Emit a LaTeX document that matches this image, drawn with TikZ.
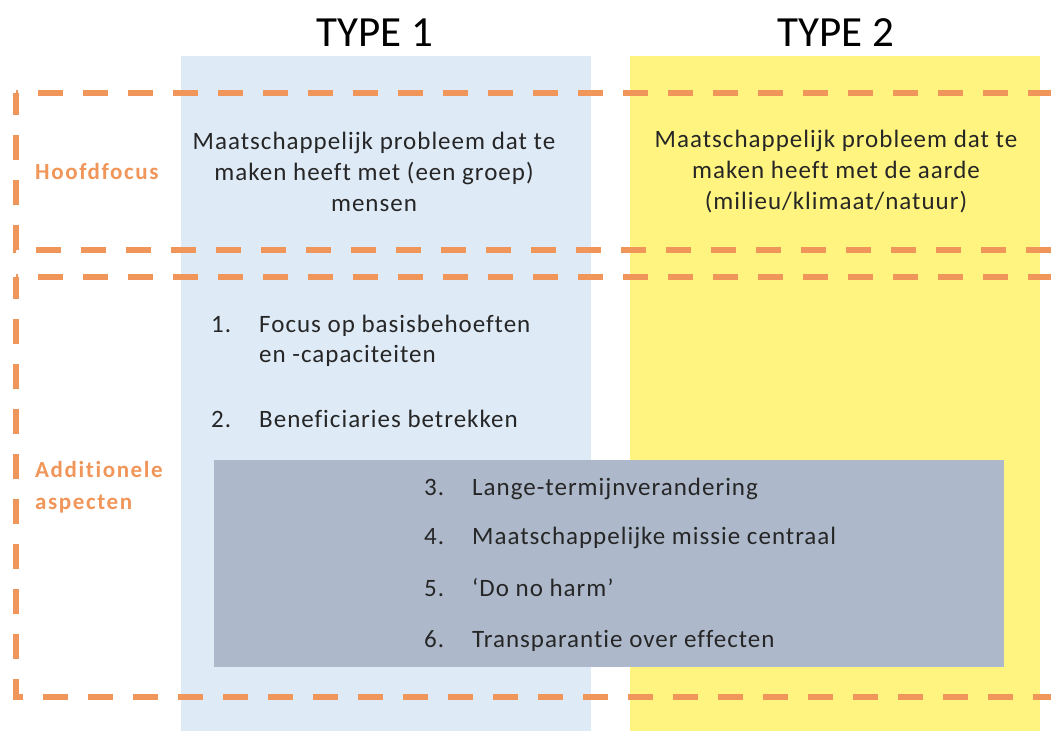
\documentclass[tikz,border=0pt]{standalone}
\usepackage{fontspec}
\setmainfont[Ligatures=NoCommon]{Carlito}
\definecolor{colblue}{HTML}{DEEAF6}
\definecolor{colyellow}{HTML}{FFF47F}
\definecolor{colgray}{HTML}{ADB9CA}
\definecolor{colorange}{HTML}{F0965A}
\definecolor{coltext}{HTML}{262626}
\tikzset{
  dashline/.style={draw=colorange, line width=6pt, dash pattern=on 25pt off 20pt},
  bodytext/.style={text=coltext, font=\fontsize{25}{31}\selectfont\addfontfeature{LetterSpace=4,Ligatures=NoCommon}, inner sep=0pt},
  headtext/.style={text=black, font=\fontsize{43}{48}\selectfont, inner sep=0pt},
  sidetext/.style={text=colorange, font=\bfseries\fontsize{23}{32}\selectfont\addfontfeature{LetterSpace=7,Ligatures=NoCommon}, inner sep=0pt, align=left},
  numtext/.style={bodytext, anchor=base west},
}
\begin{document}
\begin{tikzpicture}[x=1pt,y=-1pt]
\useasboundingbox (0,0) rectangle (1051,731);
% columns
\fill[colblue] (181,56) rectangle (591,731);
\fill[colyellow] (630,56) rectangle (1040,731);
\fill[colgray] (214,460) rectangle (1004,667);
% dashed frames
\coordinate (tl1) at (16,93);
\coordinate (bl1) at (16,250);
\coordinate (tr1) at (1051,93);
\coordinate (br1) at (1051,250);
\draw[dashline, dash phase=23pt] (tl1) -- (tr1);
\draw[dashline, dash phase=3pt] (tl1) -- (bl1) -- (br1);
\coordinate (tl2) at (16,277);
\coordinate (bl2) at (16,697);
\coordinate (tr2) at (1051,277);
\coordinate (br2) at (1051,697);
\draw[dashline, dash phase=23pt] (tl2) -- (tr2);
\draw[dashline, dash phase=3pt] (tl2) -- (bl2) -- (br2);
% headers
\node[headtext] (type1) at (375,33) {TYPE 1};
\node[headtext] (type2) at (836,33) {TYPE 2};
% side labels
\node[sidetext, anchor=west] (hoofd) at (35,172) {Hoofdfocus};
\node[sidetext, anchor=west] (add) at (35,487) {Additionele\\aspecten};
% main focus texts
\node[bodytext, align=center] (f1) at (374,172) {Maatschappelijk probleem dat te\\maken heeft met (een groep)\\mensen};
\node[bodytext, align=center] (f2) at (836,172) {Maatschappelijk probleem dat te\\maken heeft met de aarde\\(milieu/klimaat/natuur)};
% list
\node[numtext] (n1) at (211,332) {1.};
\node[numtext] (t1) at (259,332) {Focus op basisbehoeften};
\node[numtext] (t1b) at (259,362) {en -capaciteiten};
\node[numtext] (n2) at (211,427) {2.};
\node[numtext] (t2) at (259,427) {Beneficiaries betrekken};
\node[numtext] (n3) at (424,495) {3.};
\node[numtext] (t3) at (472,495) {Lange-termijnverandering};
\node[numtext] (n4) at (424,544) {4.};
\node[numtext] (t4) at (472,544) {Maatschappelijke missie centraal};
\node[numtext] (n5) at (424,596) {5.};
\node[numtext] (t5) at (472,596) {‘Do no harm’};
\node[numtext] (n6) at (424,647) {6.};
\node[numtext] (t6) at (472,647) {Transparantie over effecten};
\end{tikzpicture}
\end{document}
